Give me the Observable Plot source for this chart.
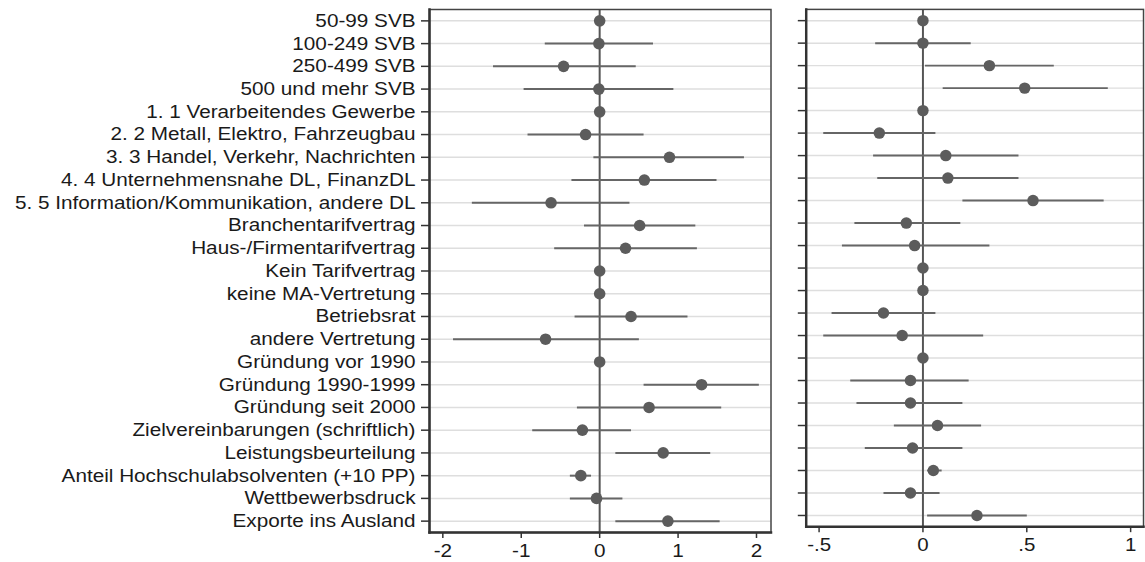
<!DOCTYPE html>
<html>
<head>
<meta charset="utf-8">
<script src="https://cdn.jsdelivr.net/npm/d3@7"></script>
<script src="https://cdn.jsdelivr.net/npm/@observablehq/plot@0.6"></script>
<style>
html, body { margin: 0; padding: 0; overflow: hidden; background: #fff; }
#wrap { position: relative; width: 1145px; height: 562px; overflow: hidden; background: #fff; }
#left { position: absolute; left: 0; top: 0; }
#right { position: absolute; left: 780px; top: 0; }
</style>
</head>
<body>
<div id="wrap"><div id="left"></div><div id="right"></div></div>
<script>
// Row labels (top to bottom)
const labels = [
  "50-99 SVB",
  "100-249 SVB",
  "250-499 SVB",
  "500 und mehr SVB",
  "1. 1 Verarbeitendes Gewerbe",
  "2. 2 Metall, Elektro, Fahrzeugbau",
  "3. 3 Handel, Verkehr, Nachrichten",
  "4. 4 Unternehmensnahe DL, FinanzDL",
  "5. 5 Information/Kommunikation, andere DL",
  "Branchentarifvertrag",
  "Haus-/Firmentarifvertrag",
  "Kein Tarifvertrag",
  "keine MA-Vertretung",
  "Betriebsrat",
  "andere Vertretung",
  "Gründung vor 1990",
  "Gründung 1990-1999",
  "Gründung seit 2000",
  "Zielvereinbarungen (schriftlich)",
  "Leistungsbeurteilung",
  "Anteil Hochschulabsolventen (+10 PP)",
  "Wettbewerbsdruck",
  "Exporte ins Ausland"
];

// Left panel: coefficients and confidence bounds (null = reference category)
const coefA = [0, -0.01, -0.46, -0.01, 0, -0.18, 0.89, 0.57, -0.62, 0.51, 0.33, 0, 0, 0.40, -0.69, 0, 1.30, 0.63, -0.22, 0.81, -0.24, -0.04, 0.87];
const loA   = [null, -0.70, -1.36, -0.97, null, -0.92, -0.08, -0.36, -1.63, -0.20, -0.58, null, null, -0.32, -1.87, null, 0.56, -0.29, -0.86, 0.20, -0.38, -0.38, 0.20];
const hiA   = [null, 0.68, 0.46, 0.94, null, 0.56, 1.84, 1.49, 0.38, 1.22, 1.24, null, null, 1.12, 0.50, null, 2.03, 1.55, 0.40, 1.41, -0.11, 0.29, 1.53];

// Right panel
const coefB = [0, 0.00, 0.32, 0.49, 0, -0.21, 0.11, 0.12, 0.53, -0.08, -0.04, 0, 0, -0.19, -0.10, 0, -0.06, -0.06, 0.07, -0.05, 0.05, -0.06, 0.26];
const loB   = [null, -0.23, 0.01, 0.095, null, -0.48, -0.24, -0.22, 0.19, -0.33, -0.39, null, null, -0.44, -0.48, null, -0.35, -0.32, -0.14, -0.28, 0.02, -0.19, 0.02];
const hiB   = [null, 0.23, 0.63, 0.89, null, 0.06, 0.46, 0.46, 0.87, 0.18, 0.32, null, null, 0.06, 0.29, null, 0.22, 0.19, 0.28, 0.19, 0.09, 0.08, 0.50];

// Axis ticks
const ticksA = [-2, -1, 0, 1, 2];
const tickLabelsA = ["-2", "-1", "0", "1", "2"];
const ticksB = [-0.5, 0, 0.5, 1];
const tickLabelsB = ["-.5", "0", ".5", "1"];

const rowsA = labels.map((label, i) => ({label, coef: coefA[i], lo: loA[i], hi: hiA[i]}));
const rowsB = labels.map((label, i) => ({label, coef: coefB[i], lo: loB[i], hi: hiB[i]}));

const FONT = "'Liberation Sans', Arial, Helvetica, sans-serif";
const STRETCH = 1.12;

function panel({rows, width, marginLeft, marginRight, domain, ticks, tickLabels, showLabels}) {
  const svg = Plot.plot({
    width,
    height: 562,
    marginTop: 9,
    marginBottom: 30,
    marginLeft,
    marginRight,
    style: {fontFamily: FONT, fontSize: "18.5px", color: "#1a1a1a", background: "white", overflow: "visible"},
    x: {domain, label: null},
    y: {type: "point", domain: labels, padding: 0.5, round: false, label: null},
    marks: [
      Plot.ruleY(labels, {stroke: "#dedede", strokeWidth: 1.5}),
      Plot.ruleX([0], {stroke: "#555", strokeWidth: 2}),
      Plot.link(rows.filter(d => d.lo != null), {x1: "lo", x2: "hi", y1: "label", y2: "label", stroke: "#666", strokeWidth: 2}),
      Plot.dot(rows, {x: "coef", y: "label", r: 5.8, fill: "#5c5c5c"}),
      Plot.frame({stroke: "#444", strokeWidth: 1.5}),
      Plot.frame({anchor: "left", stroke: "#333", strokeWidth: 2.5}),
      Plot.frame({anchor: "bottom", stroke: "#333", strokeWidth: 2.5}),
      Plot.axisY({
        tickSize: 8, tickPadding: 6, stroke: "#333", strokeWidth: 1.5, label: null,
        tickFormat: showLabels ? (d => d) : (() => ""), fill: "#1a1a1a"
      }),
      Plot.axisX({
        ticks, tickSize: 6, tickPadding: 5, stroke: "#333", strokeWidth: 1.5, label: null,
        tickFormat: d => tickLabels[ticks.indexOf(d)], fill: "#1a1a1a"
      })
    ]
  });
  // horizontal stretch of text, as in the reference
  svg.querySelectorAll("text").forEach(t => {
    const x = t.getAttribute("x"), y = t.getAttribute("y");
    const tr = t.getAttribute("transform") || "";
    if (x != null || y != null) {
      const xx = +x || 0, yy = +y || 0;
      t.setAttribute("transform", `${tr} translate(${xx},${yy}) scale(${STRETCH},1) translate(${-xx},${-yy})`);
    } else {
      t.setAttribute("transform", `${tr} scale(${STRETCH},1)`);
    }
  });
  return svg;
}

document.getElementById("left").append(panel({
  rows: rowsA, width: 780, marginLeft: 429, marginRight: 9.5,
  domain: [-2.17, 2.185], ticks: ticksA, tickLabels: tickLabelsA, showLabels: true
}));
document.getElementById("right").append(panel({
  rows: rowsB, width: 369, marginLeft: 26, marginRight: 2,
  domain: [-0.562, 1.062], ticks: ticksB, tickLabels: tickLabelsB, showLabels: false
}));
</script>
</body>
</html>
